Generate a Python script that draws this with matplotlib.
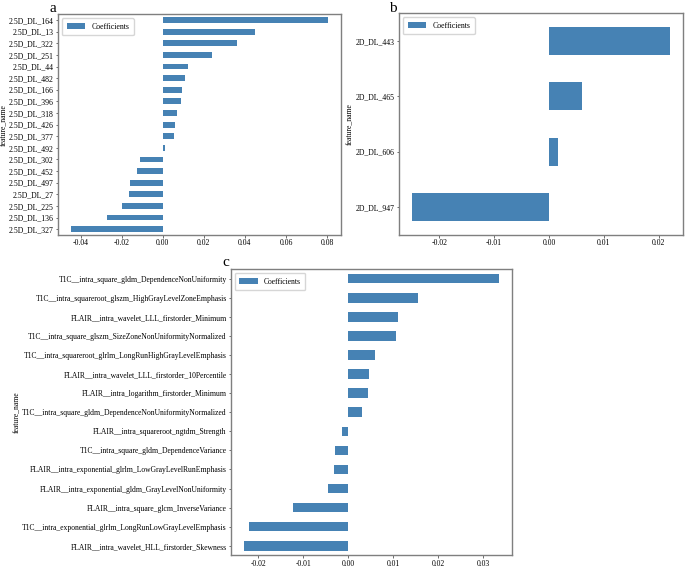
import numpy as np
import matplotlib
matplotlib.use('Agg')
import matplotlib.pyplot as plt

plt.rcParams['font.family'] = ['Liberation Serif', 'DejaVu Serif']
plt.rcParams['axes.edgecolor'] = '#7f7f7f'
plt.rcParams['axes.unicode_minus'] = False

# panel a  (top to bottom as shown)
names_a = ['2.5D_DL_164', '2.5D_DL_13', '2.5D_DL_322', '2.5D_DL_251', '2.5D_DL_44',
           '2.5D_DL_482', '2.5D_DL_166', '2.5D_DL_396', '2.5D_DL_318', '2.5D_DL_426',
           '2.5D_DL_377', '2.5D_DL_492', '2.5D_DL_302', '2.5D_DL_452', '2.5D_DL_497',
           '2.5D_DL_27', '2.5D_DL_225', '2.5D_DL_136', '2.5D_DL_327']
coef_a = [0.0805, 0.0448, 0.0362, 0.0238, 0.0123, 0.0110, 0.0094, 0.0089, 0.0071,
          0.0060, 0.0053, 0.0011, -0.0112, -0.0126, -0.0158, -0.0165, -0.0197,
          -0.0272, -0.0448]

# panel b
names_b = ['2D_DL_443', '2D_DL_465', '2D_DL_606', '2D_DL_947']
coef_b = [0.0221, 0.0061, 0.0016, -0.0250]

# panel c
names_c = ['T1C__intra_square_gldm_DependenceNonUniformity',
           'T1C__intra_squareroot_glszm_HighGrayLevelZoneEmphasis',
           'FLAIR__intra_wavelet_LLL_firstorder_Minimum',
           'T1C__intra_square_glszm_SizeZoneNonUniformityNormalized',
           'T1C__intra_squareroot_glrlm_LongRunHighGrayLevelEmphasis',
           'FLAIR__intra_wavelet_LLL_firstorder_10Percentile',
           'FLAIR__intra_logarithm_firstorder_Minimum',
           'T1C__intra_square_gldm_DependenceNonUniformityNormalized',
           'FLAIR__intra_squareroot_ngtdm_Strength',
           'T1C__intra_square_gldm_DependenceVariance',
           'FLAIR__intra_exponential_glrlm_LowGrayLevelRunEmphasis',
           'FLAIR__intra_exponential_gldm_GrayLevelNonUniformity',
           'FLAIR__intra_square_glcm_InverseVariance',
           'T1C__intra_exponential_glrlm_LongRunLowGrayLevelEmphasis',
           'FLAIR__intra_wavelet_HLL_firstorder_Skewness']
coef_c = [0.0335, 0.0156, 0.0110, 0.0106, 0.0059, 0.0045, 0.0043, 0.0030,
          -0.0014, -0.0029, -0.0031, -0.0045, -0.0124, -0.0221, -0.0233]


def coef_bar(ax, names, coefs, fs, letter, lx, ly):
    n = len(names)
    pos = np.arange(n)[::-1]
    ax.barh(pos, coefs, height=0.5, color='steelblue', label='Coefficients')
    ax.set_yticks(pos)
    ax.set_yticklabels(names, fontsize=fs)
    ax.set_ylim(-0.5, n - 0.5)
    ax.margins(x=0.05)
    ax.tick_params(axis='both', labelsize=fs, length=1.8, width=0.6,
                   color='#555555', pad=1.2)
    ax.set_ylabel('feature_name', fontsize=fs, labelpad=1)
    ax.legend(loc='upper left', fontsize=fs, handlelength=2.4, borderpad=0.6)
    for s in ax.spines.values():
        s.set_linewidth(1.0)
    ax.text(lx, ly, letter, transform=ax.transAxes, fontsize=11,
            ha='center', va='baseline')


fig = plt.figure(figsize=(6.85, 5.69), dpi=100, facecolor='white')

ax1 = fig.add_axes([0.0847, 0.587, 0.413, 0.388])
coef_bar(ax1, names_a, coef_a, 5.6, 'a', -0.018, 1.01)
ax1.set_xticks([-0.04, -0.02, 0.0, 0.02, 0.04, 0.06, 0.08])

ax2 = fig.add_axes([0.5825, 0.587, 0.4145, 0.39])
coef_bar(ax2, names_b, coef_b, 5.6, 'b', -0.021, 1.006)
ax2.set_xticks([-0.02, -0.01, 0.0, 0.01, 0.02])

ax3 = fig.add_axes([0.337, 0.024, 0.41, 0.503])
coef_bar(ax3, names_c, coef_c, 5.5, 'c', -0.018, 1.01)
ax3.set_xticks([-0.02, -0.01, 0.0, 0.01, 0.02, 0.03])

fig.savefig('out.png', dpi=100, facecolor='white')
